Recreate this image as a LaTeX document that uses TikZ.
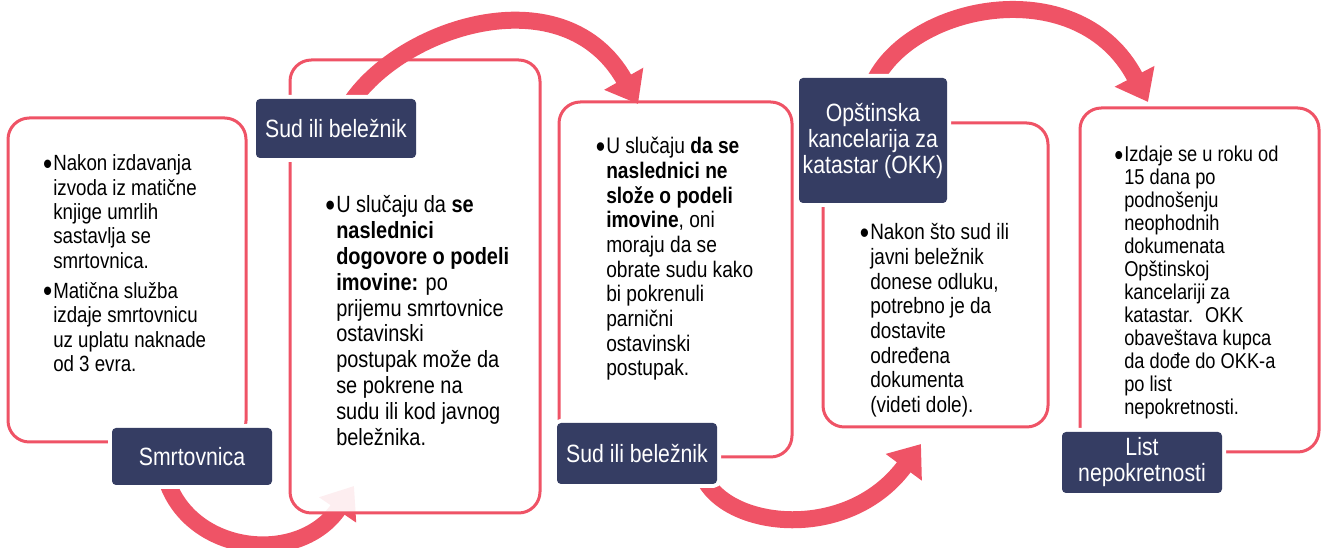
\documentclass[tikz,border=0pt]{standalone}
\usepackage{fontspec}
\usepackage{graphicx}
\setmainfont{Liberation Sans}[FakeStretch=0.85]
\usetikzlibrary{arrows.meta}
\definecolor{pk}{RGB}{239,83,102}
\definecolor{nv}{RGB}{53,61,99}
\newcommand\fsz[2]{\fontsize{#1}{#2}\selectfont}
\newcommand\bul{\leavevmode\llap{\raisebox{-2.6pt}{\scalebox{1.4}{•}}\kern0.8pt}}
\begin{document}
\begin{tikzpicture}[x=0.75pt,y=-0.75pt,
  pbox/.style={draw=pk, line width=2.25pt, rounded corners=16pt, fill=white, inner sep=0pt},
  lbl/.style={rectangle, rounded corners=3pt, fill=nv, text=white, inner sep=0pt, align=center,
    font=\fsz{18.75}{19.5}, preaction={draw=white, line width=6pt}},
  band/.style={draw=pk, line width=12.75pt, -{Triangle[length=21.75pt,width=32.25pt]}},
  txt/.style={anchor=base west, inner sep=0pt}]
\useasboundingbox (0,0) rectangle (1325,548);

% arrow behind box 2
\coordinate (a1) at (168,484);
\coordinate (a2) at (354,486);
\draw[band] (a1) .. controls (195,555) and (300,565) .. (a2);

% content boxes
\node[pbox, minimum width=178.5pt, minimum height=243pt] (b1) at (127,280) {};
\node[pbox, fill opacity=0.9, minimum width=187.5pt, minimum height=339.75pt] (b2) at (415,286.5) {};
\node[pbox, minimum width=174.75pt, minimum height=266.25pt] (b3) at (675.5,279.5) {};
\node[pbox, minimum width=168.75pt, minimum height=228pt] (b4) at (935.5,275) {};
\node[pbox, minimum width=179.25pt, minimum height=258pt] (b5) at (1199.5,280) {};

% other arrows
\coordinate (c1) at (352,101);
\coordinate (c2) at (638,104);
\draw[band] (c1) .. controls (405,25) and (565,-25) .. (c2);
\coordinate (d1) at (706,482);
\coordinate (d2) at (921,444);
\draw[band] (d1) .. controls (735,530) and (850,540) .. (d2);
\coordinate (e1) at (875,80);
\coordinate (e2) at (1148,102);
\draw[band] (e1) .. controls (915,2) and (1080,-28) .. (e2);

% labels
\node[lbl, minimum width=120pt, minimum height=42.75pt] (l1) at (192,456.5) {Smrtovnica};
\node[lbl, minimum width=120pt, minimum height=44.25pt] (l2) at (336,128.5) {Sud ili beležnik};
\node[lbl, minimum width=120pt, minimum height=45.75pt] (l3) at (637,453.5) {Sud ili beležnik};
\node[lbl, minimum width=111pt, minimum height=93.75pt] (l4) at (873,140.5) {Opštinska\\kancelarija za\\katastar (OKK)};
\node[lbl, minimum width=120pt, minimum height=45.75pt] (l5) at (1142,462.5) {List\\nepokretnosti};

% texts
\node[txt] (t1a) at (53,170.7) {\parbox[t]{170pt}{\fsz{16.5}{18.3}\bul Nakon izdavanja\\izvoda iz matične\\knjige umrlih\\sastavlja se\\smrtovnica.}};
\node[txt] (t1b) at (53,298.3) {\parbox[t]{170pt}{\fsz{16.5}{18.3}\bul Matična služba\\izdaje smrtovnicu\\uz uplatu naknade\\od 3 evra.}};
\node[txt] (t2) at (336,213) {\parbox[t]{170pt}{\fsz{17.6}{19.35}\bul U slučaju da \textbf{se}\\\textbf{naslednici}\\\textbf{dogovore o podeli}\\\textbf{imovine:} po\\prijemu smrtovnice\\ostavinski\\postupak može da\\se pokrene na\\sudu ili kod javnog\\beležnika.}};
\node[txt] (t3) at (606,154) {\parbox[t]{170pt}{\fsz{16.9}{18.5}\bul U slučaju \textbf{da se}\\\textbf{naslednici ne}\\\textbf{slože o podeli}\\\textbf{imovine}, oni\\moraju da se\\obrate sudu kako\\bi pokrenuli\\parnični\\ostavinski\\postupak.}};
\node[txt] (t4) at (870,240) {\parbox[t]{170pt}{\fsz{16.7}{18.5}\bul Nakon što sud ili\\javni beležnik\\donese odluku,\\potrebno je da\\dostavite\\određena\\dokumenta\\(videti dole).}};
\node[txt] (t5) at (1124,162) {\parbox[t]{170pt}{\fsz{16.1}{17.25}\bul Izdaje se u roku od\\15 dana po\\podnošenju\\neophodnih\\dokumenata\\Opštinskoj\\kancelariji za\\katastar.~ OKK\\obaveštava kupca\\da dođe do OKK-a\\po list\\nepokretnosti.}};
\end{tikzpicture}
\end{document}
